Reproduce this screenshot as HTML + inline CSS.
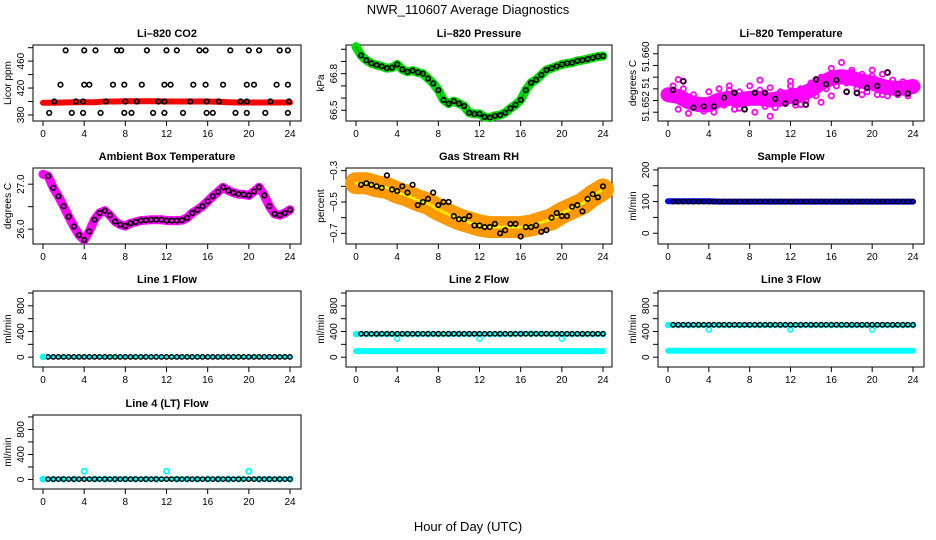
<!DOCTYPE html>
<html><head><meta charset="utf-8">
<style>
html,body{margin:0;padding:0;background:#fff;}
svg{display:block;font-family:"Liberation Sans",sans-serif;}
</style></head>
<body>
<svg id="c" width="936" height="540" viewBox="0 0 936 540">
<text x="468" y="14" text-anchor="middle" font-size="13">NWR_110607  Average Diagnostics</text>
<text x="468" y="531" text-anchor="middle" font-size="13">Hour of Day (UTC)</text>
</svg>
<script>
// ---- data ----
const hours = [0,1,2,3,4,5,6,7,8,9,10,11,12,13,14,15,16,17,18,19,20,21,22,23,24];
const halfHours = [0,0.5,1,1.5,2,2.5,3,3.5,4,4.5,5,5.5,6,6.5,7,7.5,8,8.5,9,9.5,10,10.5,11,11.5,12,12.5,13,13.5,14,14.5,15,15.5,16,16.5,17,17.5,18,18.5,19,19.5,20,20.5,21,21.5,22,22.5,23,23.5,24];
const blackTimes = [0.5,1,1.5,2,2.5,3,3.5,4,4.5,5,5.5,6,6.5,7,7.5,8,8.5,9,9.5,10,10.5,11,11.5,12,12.5,13,13.5,14,14.5,15,15.5,16,16.5,17,17.5,18,18.5,19,19.5,20,20.5,21,21.5,22,22.5,23,23.5,24];
const xTicks = [0,4,8,12,16,20,24];

const co2Red = [398,398,398.5,399,399,399,400,400,400.5,400.5,400.5,400.5,400,400,400,400,400,399.5,399,398.5,398.5,398.5,398.5,398.5,398.5];
const co2BlackT = [2.2,4,5.1,7.2,7.6,10.1,12,13,15.2,15.8,18.2,20,21,23,23.8, 1.7,4,4.5,6.8,7.9,9.6,11.8,12.4,14.6,15.8,17.5,19.8,20.5,22.7,23.8, 1.1,3.2,3.9,6.1,8,9.1,11.2,11.8,14.3,15.9,17.1,19.2,19.8,22.1,23.9, 0.6,2.8,3.9,5.6,7.9,8.6,10.7,11.8,13.6,15.9,16.5,18.7,19.8,21.6,23.8];
const co2BlackV = [476,476,476,476,476,476,476,476,476,476,476,476,476,476,476, 425,425,425,425,425,425,425,425,425,425,425,425,425,425,425, 400,400,400,400,400,400,400,400,400,400,400,400,400,400,400, 383,383,383,383,383,383,383,383,383,383,383,383,383,383,383];

const pressure = [67.02,66.95,66.91,66.885,66.87,66.86,66.845,66.85,66.875,66.835,66.815,66.825,66.81,66.80,66.76,66.72,66.665,66.585,66.555,66.575,66.555,66.535,66.48,66.47,66.47,66.445,66.44,66.455,66.46,66.48,66.515,66.545,66.585,66.665,66.725,66.75,66.79,66.83,66.845,66.86,66.875,66.885,66.89,66.905,66.91,66.92,66.93,66.94,66.945];

const liTemp = [51.6530,51.6527,51.6518,51.6513,51.6513,51.6521,51.6524,51.6521,51.6524,51.6524,51.6521,51.6524,51.6527,51.6530,51.6538,51.6550,51.6558,51.6561,51.6558,51.6553,51.6550,51.6544,51.6541,51.6541,51.6544];
const liTempBlack = [51.6538,51.6556,51.6553,51.6512,51.6508,51.6510,51.6510,51.6513,51.6510,51.6525,51.6525,51.6538,51.6533,51.6507,51.6505,51.6528,51.6533,51.6555,51.6533,51.6493,51.6523,51.6515,51.6515,51.6553,51.6517,51.6513,51.6513,51.6532,51.6556,51.6517,51.6548,51.6528,51.6555,51.6555,51.6535,51.6568,51.6533,51.6530,51.6542,51.6572,51.6545,51.6530,51.6568,51.6542,51.6532,51.6535,51.6532,51.6550];
const liTempScatter = [51.6545,51.6505,51.6540,51.6498,51.6530,51.6515,51.6502,51.6535,51.6500,51.6540,51.6512,51.6545,51.6505,51.6535,51.6515,51.6545,51.6500,51.6538,51.6510,51.6542,51.6508,51.6535,51.6515,51.6545,51.6512,51.6540,51.6520,51.6550,51.6528,51.6560,51.6540,51.6575,51.6545,51.6585,51.6550,51.6572,51.6540,51.6565,51.6535,51.6562,51.6530,51.6565,51.6528,51.6555,51.6530,51.6552,51.6528,51.6545];

const ambient = [27.22,27.18,26.92,26.73,26.51,26.28,26.06,25.87,25.76,25.95,26.21,26.36,26.41,26.31,26.17,26.10,26.07,26.13,26.16,26.19,26.20,26.21,26.21,26.21,26.19,26.19,26.19,26.20,26.25,26.36,26.43,26.51,26.62,26.73,26.83,26.93,26.86,26.81,26.78,26.77,26.75,26.84,26.93,26.75,26.51,26.34,26.31,26.36,26.43];

const rh = [-0.38,-0.38,-0.40,-0.41,-0.44,-0.46,-0.49,-0.51,-0.55,-0.58,-0.61,-0.63,-0.65,-0.66,-0.66,-0.66,-0.66,-0.65,-0.63,-0.61,-0.57,-0.54,-0.51,-0.46,-0.42];
const rhBlack = [-0.39,-0.38,-0.39,-0.40,-0.41,-0.33,-0.42,-0.43,-0.40,-0.44,-0.39,-0.52,-0.50,-0.48,-0.44,-0.52,-0.50,-0.50,-0.59,-0.61,-0.61,-0.59,-0.65,-0.65,-0.66,-0.66,-0.64,-0.70,-0.68,-0.64,-0.64,-0.72,-0.66,-0.66,-0.65,-0.69,-0.68,-0.60,-0.57,-0.59,-0.59,-0.53,-0.52,-0.56,-0.48,-0.45,-0.47,-0.40];

const sampleFlow = [101,101,101,101,101,100,100,100,100,100,100,100,100,100,100,100,100,100,100,100,100,100,100,100,100];
const sampleBlack = [100,100,100,100,100,100,100,100,100,100,100,100,100,100,100,100,100,100,100,100,100,100,100,100,100,100,100,100,100,100,100,100,100,100,100,100,100,100,100,100,100,100,100,100,100,100,100,100];

const line1Cyan = [5,5,5,5,5,5,5,5,5,5,5,5,5,5,5,5,5,5,5,5,5,5,5,5,5];
const line1Black = [5,5,5,5,5,5,5,5,5,5,5,5,5,5,5,5,5,5,5,5,5,5,5,5,5,5,5,5,5,5,5,5,5,5,5,5,5,5,5,5,5,5,5,5,5,5,5,5];

const line2Cyan = [360,360,360,360,290,360,360,360,360,360,360,360,290,360,360,360,365,365,365,360,290,360,360,360,360];
const line2Low = [95,95,95,95,95,95,95,95,95,95,95,95,95,95,95,95,95,95,95,95,95,95,95,95,95];
const line2Black = [365,365,365,365,365,365,365,365,365,365,365,365,365,365,365,365,365,365,365,365,365,365,365,365,365,365,365,365,365,365,365,365,365,365,365,365,365,365,365,365,365,365,365,365,365,365,365,365];

const line3Cyan = [500,500,500,500,430,500,500,500,500,500,500,500,430,500,500,500,500,500,500,500,430,500,500,500,500];
const line3Low = [100,100,100,100,100,100,100,100,100,100,100,100,100,100,100,100,100,100,100,100,100,100,100,100,100];
const line3Black = [505,505,505,505,505,505,505,505,505,505,505,505,505,505,505,505,505,505,505,505,505,505,505,505,505,505,505,505,505,505,505,505,505,505,505,505,505,505,505,505,505,505,505,505,505,505,505,505];

const line4Cyan = [5,5,5,5,130,5,5,5,5,5,5,5,130,5,5,5,5,5,5,5,130,5,5,5,5];
const line4Black = [5,5,5,5,5,5,5,5,5,5,5,5,5,5,5,5,5,5,5,5,5,5,5,5,5,5,5,5,5,5,5,5,5,5,5,5,5,5,5,5,5,5,5,5,5,5,5,5];

// ---- drawing ----
const svg = document.getElementById('c');
const NS = 'http://www.w3.org/2000/svg';
function mk(tag, attrs, parent){
  const e = document.createElementNS(NS, tag);
  for (const k in attrs) e.setAttribute(k, attrs[k]);
  (parent||svg).appendChild(e);
  return e;
}
const cols = [{l:33,r:301,x0:43,x24:290},{l:346,r:612,x0:356,x24:603},{l:658,r:924,x0:668,x24:913}];
const rows = [{t:45,b:121},{t:168,b:244},{t:291,b:367},{t:415,b:489}];

function panel(name, title, ci, ri, ylab, ymin, ymax, yTicks, yLabels){
  const c = cols[ci], r = rows[ri];
  const g = mk('g', {});
  
  
  const xs = t => c.x0 + (c.x24 - c.x0) * t / 24;
  const ys = v => r.b - (r.b - r.t) * (v - ymin) / (ymax - ymin);
  const tt = mk('text', {x:(c.l+c.r)/2, y:r.t-8, 'text-anchor':'middle', 'font-size':11, 'font-weight':'bold'}, g);
  tt.textContent = title;
  
  
  const frame = mk('rect', {x:c.l, y:r.t, width:c.r-c.l, height:r.b-r.t, fill:'none', stroke:'#000', 'stroke-width':1}, g);
  
  
  const xa = mk('g', {}, g);
  
  
  mk('line', {x1:xs(0), x2:xs(24), y1:r.b, y2:r.b, stroke:'#000'}, xa);
  xTicks.forEach(t => {
    mk('line', {x1:xs(t), x2:xs(t), y1:r.b, y2:r.b+5, stroke:'#000'}, xa);
    const tx = mk('text', {x:xs(t), y:r.b+16, 'text-anchor':'middle', 'font-size':10}, xa);
    tx.textContent = t;
  });
  const ya = mk('g', {}, g);
  
  
  yTicks.forEach(v => mk('line', {x1:c.l-5, x2:c.l, y1:ys(v), y2:ys(v), stroke:'#000'}, ya));
  mk('line', {x1:c.l, x2:c.l, y1:ys(yTicks[0]), y2:ys(yTicks[yTicks.length-1]), stroke:'#000'}, ya);
  yLabels.forEach(lb => {
    const y = ys(lb[0]);
    const tx = mk('text', {x:c.l-9, y:y, 'text-anchor':'middle', 'font-size':10, transform:`rotate(-90 ${c.l-9} ${y})`}, ya);
    tx.textContent = lb[1];
  });
  const yt = mk('text', {x:c.l-22, y:(r.t+r.b)/2, 'text-anchor':'middle', 'font-size':10, transform:`rotate(-90 ${c.l-22} ${(r.t+r.b)/2})`}, g);
  yt.textContent = ylab;
  
  
  return {g, xs, ys};
}
function band(p, ts, vs, color, width, name){
  let d = '';
  ts.forEach((t,i)=>{ d += (i?'L':'M') + p.xs(t).toFixed(1) + ' ' + p.ys(vs[i]).toFixed(1); });
  const e = mk('path', {d:d, fill:'none', stroke:color, 'stroke-width':width, 'stroke-linejoin':'round', 'stroke-linecap':'round'}, p.g);
  
  
  return e;
}
function pts(p, ts, vs, color, rad, sw, name){
  const g = mk('g', {}, p.g);
  
  
  ts.forEach((t,i)=>{
    mk('circle', {cx:p.xs(t).toFixed(1), cy:p.ys(vs[i]).toFixed(1), r:rad, fill:'none', stroke:color, 'stroke-width':sw}, g);
  });
}

// CO2
let p = panel('co2-panel','Li\u2013820 CO2',0,0,'Licor ppm',371,484,[380,400,420,440,460,480],[[380,'380'],[420,'420'],[460,'460']]);
band(p, hours, co2Red, '#ff0000', 6, 'co2-series');
pts(p, co2BlackT, co2BlackV, '#000', 2.3, 1.6, 'co2-averages');
// Pressure
p = panel('pressure-panel','Li\u2013820 Pressure',1,0,'kPa',66.412,67.035,[66.5,66.6,66.7,66.8,66.9,67.0],[[66.5,'66.5'],[66.8,'66.8']]);
band(p, halfHours, pressure, '#00dd00', 9, 'pressure-series');
band(p, halfHours, pressure, '#008800', 1, 'pressure-core');
pts(p, halfHours.slice(1), pressure.slice(1), '#000', 2.3, 1.6, 'pressure-averages');
// Li temp
p = panel('li-temp-panel','Li\u2013820 Temperature',2,0,'degrees C',51.6485,51.6615,[51.650,51.652,51.654,51.656,51.658,51.660],[[51.651,'51.652'],[51.655,'51'],[51.6595,'51.660']]);
band(p, hours, liTemp, '#ff00ff', 15, 'li-temp-series');
pts(p, blackTimes, liTempScatter, '#ff00ff', 2.6, 1.8, 'li-temp-scatter');
pts(p, blackTimes, liTempBlack, '#ff00ff', 2.6, 1.8, 'li-temp-scatter-2');
pts(p, blackTimes.filter((t,i)=>i%2==0), liTempBlack.filter((t,i)=>i%2==0), '#000', 2.3, 1.6, 'li-temp-averages');
// Ambient
p = panel('ambient-panel','Ambient Box Temperature',0,1,'degrees C',25.67,27.36,[26.0,26.5,27.0],[[26.0,'26.0'],[27.0,'27.0']]);
band(p, halfHours, ambient, '#ff00ff', 9, 'ambient-series');
pts(p, halfHours.slice(1), ambient.slice(1), '#000', 2.3, 1.6, 'ambient-averages');
// RH
p = panel('rh-panel','Gas Stream RH',1,1,'percent',-0.768,-0.283,[-0.7,-0.6,-0.5,-0.4,-0.3],[[-0.7,'\u22120.7'],[-0.5,'\u22120.5'],[-0.3,'\u22120.3']]);
band(p, hours, rh, '#ff9900', 22, 'rh-series');
band(p, hours, rh, '#ffee00', 3, 'rh-series-highlight').setAttribute('stroke-dasharray','2 3');
pts(p, blackTimes, rhBlack, '#000', 2.3, 1.6, 'rh-averages');
// Sample flow
p = panel('sample-flow-panel','Sample Flow',2,1,'ml/min',-34,206,[0,50,100,150,200],[[0,'0'],[100,'100'],[200,'200']]);
band(p, hours, sampleFlow, '#0000ff', 6, 'sample-flow-series');
pts(p, blackTimes, sampleBlack, '#000', 2.2, 1.4, 'sample-flow-averages');
// Line flows
const fTicks = [0,200,400,600,800,1000], fLabels = [[0,'0'],[400,'400'],[800,'800']];
p = panel('line1-flow-panel','Line 1 Flow',0,2,'ml/min',-153,1031,fTicks,fLabels);
band(p, hours, line1Cyan, '#00ffff', 4, 'line1-series');
pts(p, blackTimes, line1Black, '#000', 2.2, 1.4, 'line1-averages');
pts(p, [0], [line1Cyan[0]], '#00ffff', 2.5, 1.6, 'line1-start');
p = panel('line2-flow-panel','Line 2 Flow',1,2,'ml/min',-153,1031,fTicks,fLabels);
band(p, hours, line2Low, '#00ffff', 6, 'line2-low-series');
band(p, hours.filter((h,i)=>line2Cyan[i]>330), line2Cyan.filter(v=>v>330), '#00ffff', 5, 'line2-series');
pts(p, hours, line2Cyan, '#00ffff', 2.5, 1.6, 'line2-points');
pts(p, blackTimes, line2Black, '#000', 2.2, 1.4, 'line2-averages');
p = panel('line3-flow-panel','Line 3 Flow',2,2,'ml/min',-153,1031,fTicks,fLabels);
band(p, hours, line3Low, '#00ffff', 6, 'line3-low-series');
band(p, hours.filter((h,i)=>line3Cyan[i]>470), line3Cyan.filter(v=>v>470), '#00ffff', 5, 'line3-series');
pts(p, hours, line3Cyan, '#00ffff', 2.5, 1.6, 'line3-points');
pts(p, blackTimes, line3Black, '#000', 2.2, 1.4, 'line3-averages');
p = panel('line4-flow-panel','Line 4 (LT) Flow',0,3,'ml/min',-153,1031,fTicks,fLabels);
band(p, hours.filter((h,i)=>line4Cyan[i]<50), line4Cyan.filter(v=>v<50), '#00ffff', 4, 'line4-series');
pts(p, hours, line4Cyan, '#00ffff', 2.6, 1.8, 'line4-points');
pts(p, blackTimes, line4Black, '#000', 2.2, 1.4, 'line4-averages');
</script>
</body></html>
